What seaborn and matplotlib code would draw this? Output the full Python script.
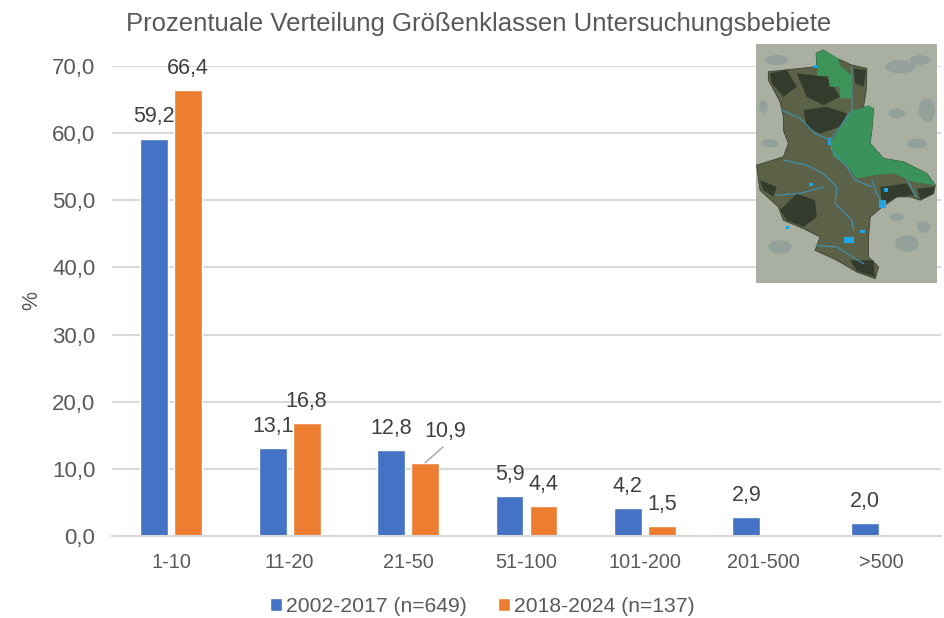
import numpy as np
import pandas as pd
import matplotlib
matplotlib.use("Agg")
import matplotlib.pyplot as plt
import seaborn as sns
from matplotlib.patches import Polygon, Ellipse

# Data
size_classes = ["1-10", "11-20", "21-50", "51-100", "101-200", "201-500", ">500"]
values_early = [59.2, 13.1, 12.8, 5.9, 4.2, 2.9, 2.0]
values_late = [66.4, 16.8, 10.9, 4.4, 1.5, np.nan, np.nan]
series_names = ["2002-2017 (n=649)", "2018-2024 (n=137)"]
y_ticks = [0, 10, 20, 30, 40, 50, 60, 70]

TEXT = "#595959"
LABEL = "#404040"
GRID = "#d9d9d9"
COLORS = ["#4472C4", "#ED7D31"]

# Rough sketch of the map inset, in inset pixel coordinates
state_outline = [(228, 70), (250, 60), (290, 85), (335, 105), (380, 115), (378, 180), (370, 230),
                 (400, 235), (395, 300), (390, 340), (430, 385), (490, 395), (560, 430), (585, 465),
                 (580, 490), (540, 510), (510, 500), (470, 500), (420, 535), (390, 560), (385, 620),
                 (385, 680), (415, 710), (405, 745), (350, 725), (290, 690), (225, 660), (240, 620),
                 (190, 595), (130, 570), (115, 530), (60, 480), (50, 405), (130, 380), (145, 340),
                 (130, 300), (130, 260), (120, 215), (85, 150), (85, 125), (230, 110)]
green_north = [(228, 70), (250, 60), (295, 85), (298, 105), (333, 135), (333, 205), (300, 205),
               (298, 170), (268, 170), (265, 138), (232, 138)]
green_east = [(335, 240), (365, 235), (385, 225), (400, 235), (395, 300), (390, 340), (430, 385),
              (490, 395), (560, 430), (585, 465), (520, 455), (460, 430), (400, 435), (350, 445),
              (320, 405), (280, 380), (270, 340), (290, 310)]
dark_patches = [
    [(90, 130), (140, 120), (170, 170), (130, 200), (95, 160)],
    [(190, 240), (260, 230), (320, 250), (300, 290), (240, 310), (200, 290)],
    [(170, 130), (260, 140), (300, 200), (250, 225), (200, 200)],
    [(340, 115), (378, 120), (370, 170), (345, 160)],
    [(120, 540), (170, 490), (225, 510), (230, 560), (190, 590), (140, 570)],
    [(60, 450), (110, 470), (100, 500), (70, 480)],
    [(420, 470), (500, 460), (520, 495), (470, 500), (425, 525)],
    [(530, 475), (582, 470), (578, 490), (540, 508)],
    [(330, 690), (400, 690), (405, 740), (350, 722)],
]
light_blobs = [(480, 110, 90, 40), (540, 90, 60, 30), (110, 90, 70, 30), (560, 240, 50, 70),
               (470, 250, 50, 30), (90, 340, 50, 25), (530, 340, 60, 30), (120, 650, 70, 40),
               (500, 640, 70, 50), (470, 560, 40, 25), (550, 590, 40, 35), (70, 230, 25, 40)]
rivers = [
    [(335, 110), (335, 240), (300, 290), (270, 330), (275, 360), (320, 410), (345, 450), (395, 470)],
    [(125, 240), (180, 265), (225, 310), (270, 330)],
    [(130, 390), (200, 405), (250, 430), (290, 470), (285, 520), (335, 570), (340, 600)],
    [(395, 450), (410, 490), (430, 525)],
    [(110, 495), (180, 490), (250, 470)],
    [(500, 445), (515, 475), (528, 500)],
    [(225, 645), (290, 650), (370, 700)],
]
blue_spots = [(313, 620, 342, 638), (416, 510, 437, 532), (208, 458, 220, 468), (138, 588, 148, 597),
              (432, 472, 442, 484), (358, 600, 374, 608), (265, 325, 274, 345), (222, 106, 230, 113)]

sns.set_theme(style="whitegrid")
plt.rcParams["font.family"] = ["Liberation Sans", "DejaVu Sans"]

df = pd.DataFrame({
    "klasse": size_classes * 2,
    "prozent": values_early + values_late,
    "zeitraum": [series_names[0]] * len(size_classes) + [series_names[1]] * len(size_classes),
})

fig = plt.figure(figsize=(9.44, 6.18), dpi=100, facecolor="white")
ax = fig.add_axes([112 / 944, (618 - 536) / 618, 829 / 944, 470 / 618])

sns.barplot(data=df, x="klasse", y="prozent", hue="zeitraum", order=size_classes,
            palette=COLORS, width=0.574, gap=0.18, saturation=1, ax=ax, legend=True, errorbar=None)

ax.set_xlim(-0.5, 6.5)
ax.set_ylim(0, 70)
ax.set_yticks(y_ticks)
ax.set_yticklabels([f"{t:.1f}".replace(".", ",") for t in y_ticks])
ax.set_xlabel("")
ax.set_ylabel("%", fontsize=15.5, color=TEXT, labelpad=7)
ax.tick_params(axis="y", labelsize=16, labelcolor=TEXT, pad=12, length=0)
ax.tick_params(axis="x", labelsize=14.3, labelcolor=TEXT, pad=12, length=0)
ax.grid(axis="y", color=GRID, linewidth=1.5)
ax.grid(axis="x", visible=False)
ax.set_axisbelow(True)
for side in ["top", "right", "left"]:
    ax.spines[side].set_visible(False)
ax.spines["bottom"].set_color(GRID)
ax.spines["bottom"].set_linewidth(1.5)

# Data labels, Excel style with comma decimals
for container in ax.containers:
    for bar in container:
        h = bar.get_height()
        if np.isnan(h) or h == 0:
            continue
        cx = bar.get_x() + bar.get_width() / 2
        text = f"{h:.1f}".replace(".", ",")
        if text == "10,9":
            # this one was moved aside, with a leader line
            ax.annotate(text, xy=(cx, h), xytext=(14.5, 22.5), textcoords="offset points",
                        ha="center", va="center", fontsize=15.5, color=LABEL)
            ax.annotate("", xy=(cx, h), xytext=(13, 11.5), textcoords="offset points",
                        arrowprops=dict(arrowstyle="-", color="#a6a6a6", lw=1,
                                        shrinkA=0, shrinkB=0))
        else:
            ax.annotate(text, xy=(cx, h), xytext=(0, 15.5), textcoords="offset points",
                        ha="center", va="center", fontsize=15.5, color=LABEL)

ax.legend(loc="center", bbox_to_anchor=(482 / 944, (618 - 606) / 618),
          bbox_transform=fig.transFigure, ncol=2, frameon=False, fontsize=15.2,
          handlelength=0.57, handleheight=0.57, handletextpad=0.2, columnspacing=1.47,
          labelcolor=TEXT)

fig.text(479 / 944, 1 - 24 / 618, "Prozentuale Verteilung Größenklassen Untersuchungsbebiete",
         ha="center", va="center", fontsize=18.5, color=TEXT)

# Map inset
inset = fig.add_axes([756 / 944, (618 - 283) / 618, 181 / 944, 239 / 618])
inset.set_xlim(48, 590)
inset.set_ylim(758, 42)
inset.axis("off")
inset.add_patch(plt.Rectangle((48, 42), 542, 716, facecolor="#a9b0a2", edgecolor="none"))
for bx, by, bw, bh in light_blobs:
    inset.add_patch(Ellipse((bx, by), bw, bh, facecolor="#94a19b", edgecolor="none"))
inset.add_patch(Polygon(state_outline, facecolor="#5b6247", edgecolor="#3a4030", lw=0.6))
for patch in dark_patches:
    inset.add_patch(Polygon(patch, facecolor="#2c3528", edgecolor="none", alpha=0.85))
inset.add_patch(Polygon(green_north, facecolor="#3c9458", edgecolor="none"))
inset.add_patch(Polygon(green_east, facecolor="#39935a", edgecolor="none"))
for river in rivers:
    xs, ys = zip(*river)
    inset.plot(xs, ys, color="#3f94b5", lw=0.8)
for x0, y0, x1, y1 in blue_spots:
    inset.add_patch(plt.Rectangle((x0, y0), x1 - x0, y1 - y0, facecolor="#1fa5e8", edgecolor="none"))

fig.savefig("out.png", dpi=100)
